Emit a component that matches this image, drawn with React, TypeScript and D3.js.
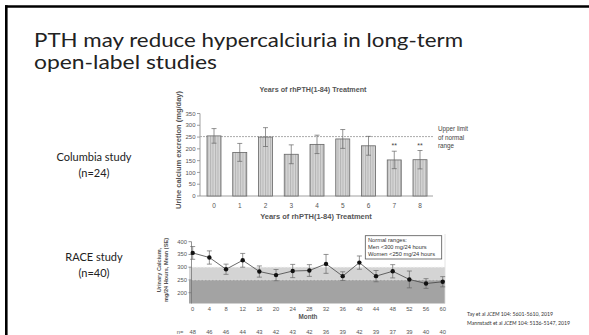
import React from "react";
import * as d3 from "d3";

const W = 589;
const H = 335;

// Columbia study (top chart)
const years = [0, 1, 2, 3, 4, 5, 6, 7, 8];
const yearMeans = [255, 185, 250, 177, 219, 242, 213, 153, 154];
const yearErrs = [31, 38, 40, 40, 39, 40, 40, 37, 39];
const yearStars = ["", "", "", "", "", "", "", "**", "**"];
const yearTicks = [0, 50, 100, 150, 200, 250, 300, 350];
const upperLimit = 252;

// RACE study (bottom chart)
const months = [0, 4, 8, 12, 16, 20, 24, 28, 32, 36, 40, 44, 48, 52, 56, 60];
const monthMeans = [356, 338, 292, 327, 283, 269, 285, 287, 313, 265, 318, 265, 284, 252, 236, 243];
const monthErrs = [25, 26, 20, 27, 22, 22, 26, 23, 37, 17, 26, 22, 26, 33, 19, 20];
const monthN = [48, 46, 46, 44, 43, 42, 43, 42, 36, 39, 42, 39, 37, 39, 40, 40];
const raceTicks = [200, 250, 300, 350, 400];
const legendLines = ["Normal ranges:", "Men <300 mg/24 hours", "Women <250 mg/24 hours"];

const SLIDE_FONT = "Lato, 'Open Sans', sans-serif";
const CHART_FONT = "'Liberation Sans', Arial, sans-serif";

export default function App() {
  // top chart scales
  const xTop = d3.scalePoint<number>().domain(years).range([214, 420]);
  const yTop = d3.scaleLinear().domain([0, 350]).range([196, 113.5]);
  const barW = 14;

  // bottom chart scales
  const xBot = d3.scaleLinear().domain([0, 60]).range([192.7, 442.7]);
  const yBot = d3.scaleLinear().domain([200, 400]).range([292.7, 241.7]);
  const plotL = 189;
  const plotR = 445;
  const plotB = 303.5;

  const line = d3
    .line<number>()
    .x((_, i) => xBot(months[i]))
    .y((d) => yBot(d));

  const grey = "#555";

  return (
    <svg
      width={W}
      height={H}
      style={{ position: "absolute", left: 0, top: 0, background: "#fff" }}
    >
      <defs>
        <pattern id="hatch" width="2.5" height="4" patternUnits="userSpaceOnUse">
          <rect width="2.5" height="4" fill="#d6d6d6" />
          <rect width="1" height="4" fill="#b4b4b4" />
        </pattern>
      </defs>
      <rect width={W} height={H} fill="#fff" />
      {/* slide frame */}
      <line x1={5} y1={6.5} x2={W} y2={6.5} stroke="#000" strokeWidth={2.6} />
      <line x1={6.3} y1={5.2} x2={6.3} y2={H} stroke="#000" strokeWidth={2.6} />

      {/* slide title */}
      <text x={34} y={47} fontFamily={SLIDE_FONT} fontSize={19} fill="#222" textLength={429} lengthAdjust="spacingAndGlyphs">
        PTH may reduce hypercalciuria in long-term
      </text>
      <text x={34} y={69} fontFamily={SLIDE_FONT} fontSize={19} fill="#222" textLength={183} lengthAdjust="spacingAndGlyphs">
        open-label studies
      </text>

      {/* left labels */}
      <g fontFamily={SLIDE_FONT} fontSize={11} fill="#222" textAnchor="middle">
        <text x={94} y={161}>Columbia study</text>
        <text x={94} y={177}>(n=24)</text>
        <text x={94} y={261}>RACE study</text>
        <text x={94} y={277}>(n=40)</text>
      </g>

      {/* ===== Top chart ===== */}
      <g fontFamily={CHART_FONT} fill={grey}>
        <text x={313} y={92} fontSize={7.2} fontWeight="bold" textAnchor="middle">
          Years of rhPTH(1-84) Treatment
        </text>
        <text
          transform={`translate(181,150) rotate(-90)`}
          fontSize={7}
          fontWeight="bold"
          textAnchor="middle"
          textLength={118}
          lengthAdjust="spacingAndGlyphs"
        >
          Urine calcium excretion (mg/day)
        </text>
        {/* y axis */}
        <line x1={200} x2={200} y1={yTop(350)} y2={yTop(0)} stroke="#888" strokeWidth={0.8} />
        {yearTicks.map((t) => (
          <g key={t}>
            <line x1={197} x2={200} y1={yTop(t)} y2={yTop(t)} stroke="#888" strokeWidth={0.8} />
            <text x={195.5} y={yTop(t) + 2.2} fontSize={6} textAnchor="end">
              {t}
            </text>
          </g>
        ))}
        {/* x axis */}
        <line x1={200} x2={433} y1={yTop(0)} y2={yTop(0)} stroke="#888" strokeWidth={0.8} />
        {years.map((yr) => (
          <text key={yr} x={xTop(yr)!} y={208} fontSize={6.5} textAnchor="middle">
            {yr}
          </text>
        ))}
        <text x={316} y={219} fontSize={7.5} fontWeight="bold" textAnchor="middle">
          Years of rhPTH(1-84) Treatment
        </text>
        {/* upper limit line */}
        <line
          x1={200}
          x2={433}
          y1={yTop(upperLimit)}
          y2={yTop(upperLimit)}
          stroke="#aaa"
          strokeWidth={1}
          strokeDasharray="2,1"
        />
        <g fontSize={6.3} fill="#444">
          <text x={438} y={131}>Upper limit</text>
          <text x={438} y={139.5}>of normal</text>
          <text x={438} y={148}>range</text>
        </g>
        {/* bars */}
        {years.map((yr, i) => {
          const cx = xTop(yr)!;
          const top = yTop(yearMeans[i]);
          return (
            <g key={yr}>
              <rect
                x={cx - barW / 2}
                y={top}
                width={barW}
                height={yTop(0) - top}
                fill="url(#hatch)"
                stroke="#666"
                strokeWidth={0.8}
              />
              <line x1={cx} x2={cx} y1={yTop(yearMeans[i] + yearErrs[i])} y2={yTop(yearMeans[i] - yearErrs[i])} stroke="#666" strokeWidth={0.7} />
              <line x1={cx - 2.5} x2={cx + 2.5} y1={yTop(yearMeans[i] + yearErrs[i])} y2={yTop(yearMeans[i] + yearErrs[i])} stroke="#666" strokeWidth={0.7} />
              <line x1={cx - 2.5} x2={cx + 2.5} y1={yTop(yearMeans[i] - yearErrs[i])} y2={yTop(yearMeans[i] - yearErrs[i])} stroke="#666" strokeWidth={0.7} />
              {yearStars[i] && (
                <text x={cx} y={yTop(yearMeans[i] + yearErrs[i]) - 3} fontSize={7} textAnchor="middle" fill="#444">
                  {yearStars[i]}
                </text>
              )}
            </g>
          );
        })}
      </g>

      {/* ===== Bottom chart ===== */}
      <g fontFamily={CHART_FONT} fill={grey}>
        {/* shading */}
        <rect x={plotL} y={yBot(300)} width={plotR - plotL} height={yBot(250) - yBot(300)} fill="#d4d4d4" />
        <rect x={plotL} y={yBot(250)} width={plotR - plotL} height={plotB - yBot(250)} fill="#a3a3a3" />
        <line x1={plotL} x2={plotR} y1={yBot(300)} y2={yBot(300)} stroke="#eee" strokeWidth={0.8} strokeDasharray="2,1.5" />
        <line x1={plotL} x2={plotR} y1={yBot(250)} y2={yBot(250)} stroke="#ddd" strokeWidth={0.8} strokeDasharray="2,1.5" />
        <line x1={plotR} x2={plotR} y1={234} y2={plotB} stroke="#ddd" strokeWidth={0.8} />
        {/* y axis */}
        <line x1={191.5} x2={191.5} y1={yBot(400)} y2={plotB} stroke="#777" strokeWidth={0.8} />
        {raceTicks.map((t) => (
          <g key={t}>
            <line x1={188.5} x2={191.5} y1={yBot(t)} y2={yBot(t)} stroke="#777" strokeWidth={0.8} />
            <text x={187} y={yBot(t) + 2} fontSize={5.8} textAnchor="end">
              {t}
            </text>
          </g>
        ))}
        <text transform={`translate(161,270) rotate(-90)`} fontSize={5.6} fontWeight="bold" textAnchor="middle">
          Urinary Calcium,
        </text>
        <text transform={`translate(168,270) rotate(-90)`} fontSize={5.6} fontWeight="bold" textAnchor="middle">
          mg/24 Hours, Mean (SE)
        </text>
        {/* legend */}
        <rect x={365.3} y={235.7} width={76.4} height={23.3} fill="#fff" stroke="#555" strokeWidth={0.8} />
        {legendLines.map((t, i) => (
          <text key={t} x={368} y={242.3 + i * 7} fontSize={5.7} fill="#333">
            {t}
          </text>
        ))}
        {/* line + error bars */}
        <path d={line(monthMeans) ?? ""} fill="none" stroke="#444" strokeWidth={0.8} />
        {months.map((m, i) => {
          const cx = xBot(m);
          const hi = yBot(monthMeans[i] + monthErrs[i]);
          const lo = yBot(monthMeans[i] - monthErrs[i]);
          return (
            <g key={m}>
              <line x1={cx} x2={cx} y1={hi} y2={lo} stroke="#666" strokeWidth={0.7} />
              <line x1={cx - 2.5} x2={cx + 2.5} y1={hi} y2={hi} stroke="#666" strokeWidth={0.7} />
              <line x1={cx - 2.5} x2={cx + 2.5} y1={lo} y2={lo} stroke="#666" strokeWidth={0.7} />
              <circle cx={cx} cy={yBot(monthMeans[i])} r={2.2} fill="#111" />
              <text x={cx} y={311} fontSize={5.8} textAnchor="middle">
                {m}
              </text>
              <text x={cx} y={333.5} fontSize={5.8} textAnchor="middle">
                {monthN[i]}
              </text>
            </g>
          );
        })}
        <text x={308} y={318.5} fontSize={6.3} fontWeight="bold" textAnchor="middle">
          Month
        </text>
        <text x={180} y={333.5} fontSize={5.8} textAnchor="middle">
          n=
        </text>
      </g>

      {/* references */}
      <g fontFamily={SLIDE_FONT} fontSize={5.2} fill="#333">
        <text x={467} y={316}>
          Tay et al <tspan fontStyle="italic">JCEM</tspan> 104: 5601-5610, 2019
        </text>
        <text x={467} y={325}>
          Mannstadt et al <tspan fontStyle="italic">JCEM</tspan> 104: 5136-5147, 2019
        </text>
      </g>
    </svg>
  );
}
